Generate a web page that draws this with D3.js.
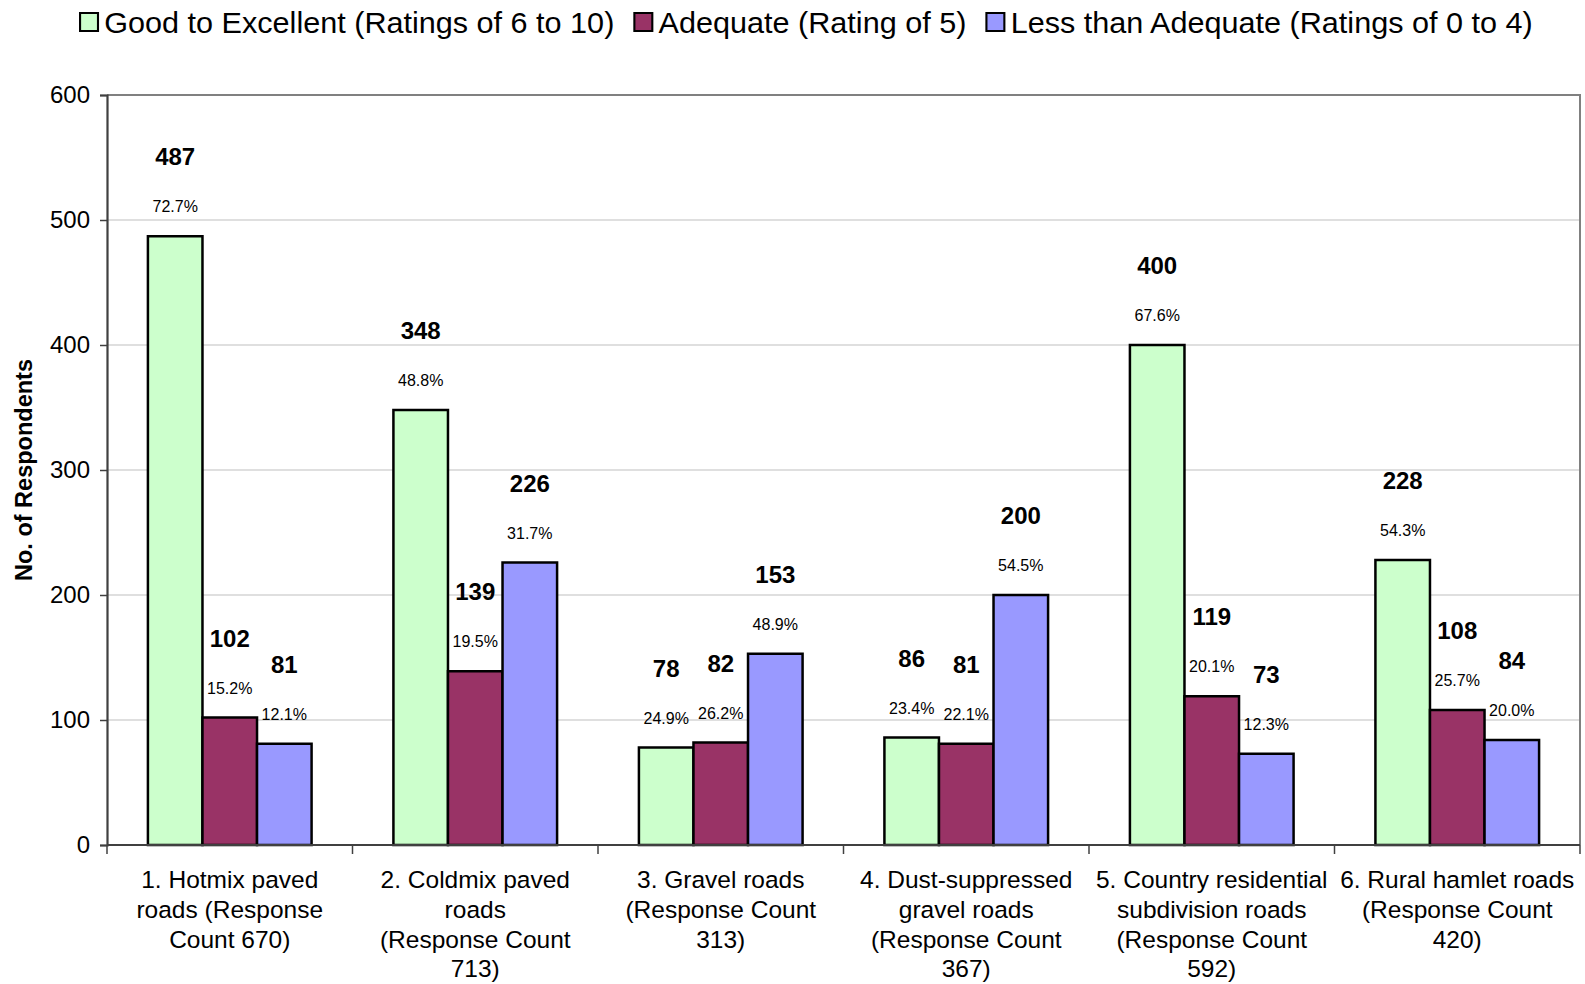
<!DOCTYPE html>
<html>
<head>
<meta charset="utf-8">
<script src="https://cdn.jsdelivr.net/npm/d3@7"></script>
<style>
  body { margin: 0; background: #fff; }
  text { font-family: "Liberation Sans", Arial, sans-serif; }
</style>
</head>
<body>
<div id="chart"></div>
<script>
// chart data
const categories = ["c1", "c2", "c3", "c4", "c5", "c6"];
const categoryLines = [
  ["1. Hotmix paved", "roads (Response", "Count 670)"],
  ["2. Coldmix paved", "roads", "(Response Count", "713)"],
  ["3. Gravel roads", "(Response Count", "313)"],
  ["4. Dust-suppressed", "gravel roads", "(Response Count", "367)"],
  ["5. Country residential", "subdivision roads", "(Response Count", "592)"],
  ["6. Rural hamlet roads", "(Response Count", "420)"]
];
const responseCounts = [670, 713, 313, 367, 592, 420];
const seriesNames = [
  "Good to Excellent (Ratings of 6 to 10)",
  "Adequate (Rating of 5)",
  "Less than Adequate (Ratings of 0 to 4)"
];
const goodValues = [487, 348, 78, 86, 400, 228];
const adequateValues = [102, 139, 82, 81, 119, 108];
const lessValues = [81, 226, 153, 200, 73, 84];
const yTicks = [0, 100, 200, 300, 400, 500, 600];
const colors = ["#ccffcc", "#993366", "#9999ff"];

const width = 1585, height = 984;
const plot = {left: 107, right: 1580, top: 95, bottom: 845};

const SVG = d3.select("#chart")
  .append("svg")
  .attr("width", width)
  .attr("height", height);

const x = d3.scaleBand()
  .domain(categories)
  .range([plot.left, plot.right]);

const xInner = d3.scaleBand()
  .domain([0, 1, 2])
  .range([0, x.bandwidth()])
  .paddingInner(0)
  .paddingOuter(0.75);

const y = d3.scaleLinear()
  .domain([0, 600])
  .range([plot.bottom, plot.top]);

// gridlines
SVG.append("g")
  .selectAll("line")
  .data(yTicks.filter(d => d > 0 && d < 600))
  .enter()
  .append("line")
  .attr("x1", plot.left).attr("x2", plot.right)
  .attr("y1", d => y(d)).attr("y2", d => y(d))
  .attr("stroke", "#c0c0c0")
  .attr("stroke-width", 1.2);

// plot border top and right
SVG.append("path")
  .attr("d", `M${plot.left},${y(600)}H${plot.right}V${plot.bottom}`)
  .attr("fill", "none")
  .attr("stroke", "#808080")
  .attr("stroke-width", 2);

// y axis
const yAxis = SVG.append("g")
  .attr("transform", `translate(${plot.left},0)`)
  .call(d3.axisLeft(y).tickValues(yTicks).tickSize(7).tickPadding(10));
yAxis.select(".domain").attr("stroke", "#404040").attr("stroke-width", 2.2);
yAxis.selectAll(".tick line").attr("stroke", "#404040").attr("stroke-width", 1.5);
yAxis.selectAll("text")
  .attr("font-size", 24)
  .attr("font-family", "Liberation Sans, Arial, sans-serif")
  .attr("fill", "#000");

// y axis title
SVG.append("text")
  .attr("transform", `translate(32,${(plot.top + plot.bottom) / 2}) rotate(-90)`)
  .attr("text-anchor", "middle")
  .attr("font-size", 23.5)
  .attr("font-weight", "bold")
  .text("No. of Respondents");

// bars
const rows = categories.map((c, i) => ({
  cat: c,
  vals: [goodValues[i], adequateValues[i], lessValues[i]],
  total: responseCounts[i]
}));

const groups = SVG.append("g")
  .selectAll("g")
  .data(rows)
  .enter()
  .append("g")
  .attr("transform", d => `translate(${x(d.cat)},0)`);

const cells = groups.selectAll("g")
  .data(d => d.vals.map((v, s) => ({v: v, s: s, total: d.total})))
  .enter()
  .append("g");

cells.append("rect")
  .attr("x", d => xInner(d.s))
  .attr("width", xInner.bandwidth())
  .attr("y", d => y(d.v))
  .attr("height", d => y(0) - y(d.v))
  .attr("fill", d => colors[d.s])
  .attr("stroke", "#000")
  .attr("stroke-width", 2.5);

// percentage labels
cells.append("text")
  .attr("x", d => xInner(d.s) + xInner.bandwidth() / 2)
  .attr("y", d => y(d.v) - 24)
  .attr("text-anchor", "middle")
  .attr("font-size", 16)
  .text(d => (d.v / d.total * 100).toFixed(1) + "%");

// value labels
cells.append("text")
  .attr("x", d => xInner(d.s) + xInner.bandwidth() / 2)
  .attr("y", d => y(d.v) - 71)
  .attr("text-anchor", "middle")
  .attr("font-size", 24)
  .attr("font-weight", "bold")
  .text(d => d.v);

// x axis
const xAxisG = SVG.append("g");
xAxisG.append("line")
  .attr("x1", plot.left).attr("x2", plot.right)
  .attr("y1", plot.bottom).attr("y2", plot.bottom)
  .attr("stroke", "#404040")
  .attr("stroke-width", 2.2);
xAxisG.selectAll(".xtick")
  .data(categories.map(c => x(c)).concat([plot.right]))
  .enter()
  .append("line")
  .attr("class", "xtick")
  .attr("x1", d => d).attr("x2", d => d)
  .attr("y1", plot.bottom).attr("y2", plot.bottom + 9)
  .attr("stroke", "#404040")
  .attr("stroke-width", 1.5);

const xLabels = xAxisG.selectAll(".xlabel")
  .data(categories)
  .enter()
  .append("text")
  .attr("class", "xlabel")
  .attr("text-anchor", "middle")
  .attr("font-size", 24.5);
xLabels.selectAll("tspan")
  .data((c, i) => categoryLines[i].map(line => ({line: line, c: c})))
  .enter()
  .append("tspan")
  .attr("x", d => x(d.c) + x.bandwidth() / 2)
  .attr("y", (d, j) => 888 + j * 29.8)
  .text(d => d.line);

// legend (text in the original is slightly stretched horizontally)
const legend = SVG.append("g").attr("transform", "translate(79,0) scale(1.055,1)");
let lx = 0;
seriesNames.forEach((name, i) => {
  const item = legend.append("g").attr("transform", `translate(${lx},0)`);
  item.append("rect")
    .attr("x", 1).attr("y", 13)
    .attr("width", 17).attr("height", 18)
    .attr("fill", colors[i])
    .attr("stroke", "#000")
    .attr("stroke-width", 2);
  const t = item.append("text")
    .attr("x", 24).attr("y", 33)
    .attr("font-size", 29)
    .text(name);
  lx += 24 + t.node().getComputedTextLength() + 18;
});
</script>
</body>
</html>
